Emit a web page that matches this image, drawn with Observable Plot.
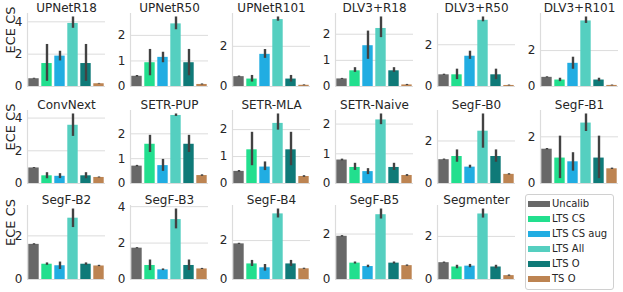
<!DOCTYPE html>
<html><head><meta charset="utf-8">
<script src="https://cdn.jsdelivr.net/npm/d3@7"></script>
<script src="https://cdn.jsdelivr.net/npm/@observablehq/plot@0.6"></script>
<style>
body{margin:0;background:#fff;font-family:"DejaVu Sans",sans-serif;}
#chart{position:relative;width:623px;height:292px;overflow:hidden;background:#fff;}
#chart svg{position:absolute;}
#legend{position:absolute;left:525px;top:194px;width:89px;height:96px;border:1px solid #d0d0d0;border-radius:3px;box-sizing:border-box;font-size:10px;color:#262626;padding-top:1px;}
#legend .row{display:flex;align-items:center;height:15px;}
#legend .sw{width:22px;height:6px;margin-left:2px;margin-right:2px;}
</style>
</head><body>
<div id="chart"></div>
<script>
const models = ["UPNetR18","UPNetR50","UPNetR101","DLV3+R18","DLV3+R50","DLV3+R101","ConvNext","SETR-PUP","SETR-MLA","SETR-Naive","SegF-B0","SegF-B1","SegF-B2","SegF-B3","SegF-B4","SegF-B5","Segmenter"];
const methods = ["Uncalib","LTS CS","LTS CS aug","LTS All","LTS O","TS O"];
const colors = ["#686868","#22df8e","#21ade2","#55cfc0","#0f7a78","#bd8452"];

const uncalibMean = [0.48,0.40,0.49,0.29,0.56,0.51,0.95,0.70,0.45,0.79,1.12,1.47,1.61,1.72,1.83,1.90,0.78];
const uncalibLo   = [0.45,0.37,0.46,0.27,0.53,0.48,0.92,0.67,0.42,0.76,1.09,1.44,1.58,1.69,1.80,1.87,0.75];
const uncalibHi   = [0.51,0.43,0.52,0.31,0.59,0.54,0.98,0.73,0.48,0.82,1.15,1.50,1.64,1.75,1.86,1.93,0.81];

const ltsCsMean = [1.42,0.93,0.37,0.60,0.56,0.36,0.47,1.58,1.25,0.54,1.27,1.09,0.70,0.77,0.80,0.72,0.58];
const ltsCsLo   = [0.32,0.42,0.22,0.54,0.33,0.27,0.29,1.25,0.66,0.44,1.00,0.21,0.65,0.49,0.67,0.68,0.50];
const ltsCsHi   = [2.60,1.45,0.55,0.72,0.83,0.46,0.66,1.94,1.90,0.68,1.58,2.03,0.76,1.07,0.98,0.77,0.66];

const ltsAugMean = [1.88,1.14,1.60,1.56,1.45,1.29,0.44,0.72,0.61,0.40,0.77,0.93,0.63,0.53,0.60,0.57,0.62];
const ltsAugLo   = [1.58,0.93,1.40,1.04,1.30,0.96,0.30,0.49,0.48,0.30,0.72,0.53,0.46,0.49,0.43,0.52,0.55];
const ltsAugHi   = [2.18,1.34,1.84,2.12,1.69,1.63,0.60,0.97,0.80,0.50,0.86,1.32,0.80,0.58,0.77,0.63,0.70];

const ltsAllMean = [3.90,2.45,3.33,2.22,3.17,3.65,3.56,2.74,2.23,2.14,2.46,2.59,2.81,3.29,3.37,2.85,3.04];
const ltsAllLo   = [3.60,2.22,3.25,1.87,3.10,3.51,2.88,2.70,1.98,1.98,1.66,2.23,2.38,2.78,3.16,2.66,2.85];
const ltsAllHi   = [4.30,2.72,3.46,2.66,3.33,3.87,4.25,2.80,2.58,2.34,3.27,2.98,3.23,3.87,3.62,3.10,3.27];

const ltsOMean = [1.42,0.93,0.37,0.60,0.56,0.36,0.47,1.58,1.25,0.54,1.27,1.09,0.70,0.77,0.80,0.72,0.58];
const ltsOLo   = [0.32,0.42,0.22,0.54,0.33,0.27,0.29,1.25,0.66,0.44,1.00,0.21,0.65,0.49,0.67,0.68,0.50];
const ltsOHi   = [2.60,1.45,0.55,0.72,0.83,0.46,0.66,1.94,1.90,0.68,1.58,2.03,0.76,1.07,0.98,0.77,0.66];

const tsOMean = [0.17,0.08,0.06,0.06,0.05,0.06,0.37,0.32,0.26,0.27,0.43,0.63,0.62,0.58,0.55,0.61,0.18];
const tsOLo   = [0.15,0.06,0.04,0.04,0.03,0.04,0.34,0.29,0.23,0.24,0.40,0.60,0.59,0.55,0.52,0.58,0.15];
const tsOHi   = [0.19,0.10,0.08,0.08,0.07,0.08,0.40,0.35,0.29,0.30,0.46,0.66,0.65,0.61,0.58,0.64,0.21];

const yTicks = [[0,2,4],[0,1,2],[0,2],[0,1,2],[0,2],[0,2],[0,2,4],[0,1,2],[0,1,2],[0,1,2],[0,2],[0,2],[0,2],[0,2,4],[0,2],[0,2],[0,2]];
const yLabel = "ECE CS";

const means = [uncalibMean, ltsCsMean, ltsAugMean, ltsAllMean, ltsOMean, tsOMean];
const los = [uncalibLo, ltsCsLo, ltsAugLo, ltsAllLo, ltsOLo, tsOLo];
const his = [uncalibHi, ltsCsHi, ltsAugHi, ltsAllHi, ltsOHi, tsOHi];

const chart = document.getElementById("chart");
const colX = c => 27 + c * 102.6;
const rowTop = [13, 110, 205];
const rowBottom = [86, 183, 279];
const ML = 26, MR = 2, MT = 16, MB = 4, AREA = 78;
const gridColor = "#dcdcdc", textColor = "#262626";

models.forEach((name, k) => {
  const r = Math.floor(k / 6), c = k % 6;
  const rows = methods.map((m, i) => ({i, method: m, mean: means[i][k], lo: los[i][k], hi: his[i][k], color: colors[i]}));
  const ymax = 1.05 * d3.max(rows, d => d.hi);
  const h = rowBottom[r] - rowTop[r];
  const marks = [
    Plot.ruleY(yTicks[k].filter(t => t > 0), {stroke: gridColor, strokeWidth: 1}),
    Plot.ruleY([0], {stroke: gridColor, strokeWidth: 1.2}),
    Plot.ruleX([-0.5], {stroke: gridColor, strokeWidth: 1.2}),
    Plot.rectY(rows, {x1: d => d.i - 0.4, x2: d => d.i + 0.4, y1: 0, y2: "mean", fill: "color"}),
    Plot.ruleX(rows, {x: "i", y1: "lo", y2: "hi", stroke: "#424242", strokeWidth: 2.4}),
    Plot.axisY(yTicks[k], {tickSize: 0, tickPadding: 5, fontSize: 12, color: textColor, label: null}),
    Plot.text([name], {frameAnchor: "top", dy: -2, lineAnchor: "bottom", fontSize: 12, fill: textColor})
  ];
  if (c === 0) marks.push(Plot.text([yLabel], {frameAnchor: "left", rotate: -90, dx: -17, dy: 3.5, fontSize: 13, fill: textColor}));
  const svg = Plot.plot({
    width: ML + AREA + MR,
    height: MT + h + MB,
    marginLeft: ML, marginRight: MR, marginTop: MT, marginBottom: MB,
    x: {type: "linear", domain: [-0.5, 5.5], axis: null},
    y: {domain: [0, ymax], axis: null},
    style: {background: "transparent", overflow: "visible", fontFamily: "DejaVu Sans", fontSize: "12px", color: textColor},
    marks
  });
  svg.style.left = (colX(c) - ML) + "px";
  svg.style.top = (rowTop[r] - MT) + "px";
  chart.appendChild(svg);
});

const legend = document.createElement("div");
legend.id = "legend";
methods.forEach((m, i) => {
  const row = document.createElement("div");
  row.className = "row";
  const sw = document.createElement("span");
  sw.className = "sw";
  sw.style.background = colors[i];
  const t = document.createElement("span");
  t.textContent = m;
  row.appendChild(sw); row.appendChild(t);
  legend.appendChild(row);
});
chart.appendChild(legend);
</script>
</body></html>
